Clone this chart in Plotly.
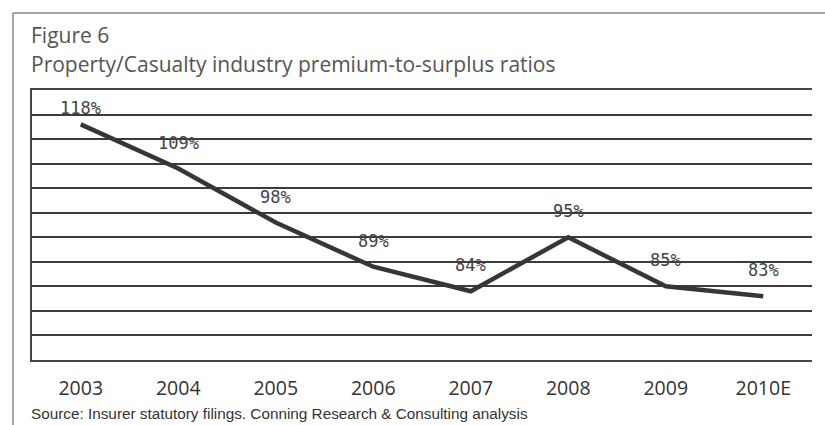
import plotly.graph_objects as go

years = ["2003", "2004", "2005", "2006", "2007", "2008", "2009", "2010E"]
ratios = [118, 109, 98, 89, 84, 95, 85, 83]
labels = ["118%", "109%", "98%", "89%", "84%", "95%", "85%", "83%"]
y_ticks = [70, 75, 80, 85, 90, 95, 100, 105, 110, 115, 120, 125]

W, H = 825, 425
L, R, T, B = 32, 13, 90, 65
pw, ph = W - L - R, H - T - B
Y0, Y1 = 70, 125

def px(x):
    return (x - L) / pw

def py(y):
    return (H - B - y) / ph

units_per_px = (Y1 - Y0) / ph

fig = go.Figure()
fig.add_trace(go.Scatter(
    x=years, y=ratios, mode="lines",
    line=dict(color="#363636", width=4.5),
    hoverinfo="skip", showlegend=False,
))

for i, (v, lab) in enumerate(zip(ratios, labels)):
    ly = min(v + 26 * units_per_px, Y1 - 17.5 * units_per_px)
    fig.add_annotation(
        x=i, y=ly, text=lab, showarrow=False,
        font=dict(family="DejaVu Sans Mono", size=17, color="#444"),
    )

fig.add_annotation(
    xref="paper", yref="paper", x=px(29), y=py(35), xanchor="left", yanchor="middle",
    text="Figure 6", showarrow=False,
    font=dict(family="Open Sans", size=21, color="#555"),
)
fig.add_annotation(
    xref="paper", yref="paper", x=px(29), y=py(64), xanchor="left", yanchor="middle",
    text="Property/Casualty industry premium-to-surplus ratios", showarrow=False,
    font=dict(family="Open Sans", size=21, color="#555"),
)
fig.add_annotation(
    xref="paper", yref="paper", x=px(29), y=py(413), xanchor="left", yanchor="middle",
    text="Source: Insurer statutory filings. Conning Research &amp; Consulting analysis",
    showarrow=False,
    font=dict(family="Liberation Sans", size=15.3, color="#333"),
)

# outer frame: top and left edges
fig.add_shape(type="line", xref="paper", yref="paper",
              x0=px(13), x1=px(825), y0=py(13), y1=py(13),
              line=dict(color="#888", width=1.5))
fig.add_shape(type="line", xref="paper", yref="paper",
              x0=px(13), x1=px(13), y0=py(13), y1=py(425),
              line=dict(color="#888", width=1.5))

fig.update_layout(
    width=W, height=H,
    margin=dict(l=L, r=R, t=T, b=B),
    paper_bgcolor="white", plot_bgcolor="white",
    xaxis=dict(
        type="category", range=[-0.5, 7.5],
        showgrid=False, showline=True, mirror=True, linecolor="#444", linewidth=1.5,
        ticks="", tickfont=dict(family="Open Sans", size=19.5, color="#333"),
        ticklabelstandoff=10,
    ),
    yaxis=dict(
        range=[Y0, Y1], tickvals=y_ticks, showticklabels=False,
        showgrid=True, gridcolor="#3c3c3c", gridwidth=1.5,
        showline=True, linecolor="#444", linewidth=1.5, zeroline=False, ticks="",
    ),
)

fig.write_html("out.html")
